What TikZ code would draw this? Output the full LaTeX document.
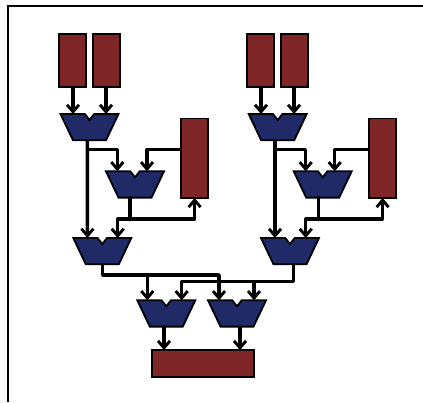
\documentclass[tikz,border=0pt]{standalone}
\usetikzlibrary{arrows.meta}
\definecolor{regred}{HTML}{7F2628}
\definecolor{muxblue}{HTML}{1F2A66}
\tikzset{
  regbox/.style={draw=black,fill=regred,line width=1.8pt,inner sep=0pt,outer sep=0pt},
  tallreg/.style={regbox,minimum width=27pt,minimum height=53.2pt},
  sidereg/.style={regbox,minimum width=26.5pt,minimum height=79.5pt},
  muxanchor/.style={inner sep=0pt,outer sep=0pt,minimum width=58pt,minimum height=26.3pt},
  muxfill/.style={draw=black,fill=muxblue,line width=1.8pt,line join=miter},
  wire/.style={draw=black,line width=3.4pt,line join=round,line cap=round},
  arrowwire/.style={wire,line cap=butt,-{Straight Barb[length=7pt,width=12pt,line width=2.9pt]}},
  frameline/.style={draw=black,line width=2pt}
}
\newcommand{\muxunit}[3]{%
  \node[muxanchor] (#1) at (#2,#3+13.15) {};
  \draw[muxfill] ([xshift=-29pt]#1.north) -- ([xshift=-4.7pt]#1.north)
    -- ([yshift=-6pt]#1.north) -- ([xshift=4.7pt]#1.north)
    -- ([xshift=29pt]#1.north) -- ([xshift=16.5pt]#1.south)
    -- ([xshift=-16.5pt]#1.south) -- cycle;
}
\begin{document}
\begin{tikzpicture}[x=1pt,y=-1pt]
\useasboundingbox (0,0) rectangle (423,402);
\fill[white] (0,0) rectangle (423,402);
\coordinate (fa) at (7.5,402);
\coordinate (fb) at (7.5,5.5);
\coordinate (fc) at (423,5.5);
\draw[frameline] (fa) -- (fb) -- (fc);

% registers
\node[tallreg] (r1) at (72.4,60.5) {};
\node[tallreg] (r2) at (106.5,60.5) {};
\node[tallreg] (r3) at (260.4,60.5) {};
\node[tallreg] (r4) at (294.5,60.5) {};
\node[sidereg] (s1) at (194.6,158.2) {};
\node[sidereg] (s2) at (382.6,158.2) {};
\node[regbox,minimum width=102pt,minimum height=26.6pt] (out) at (203,363.4) {};

% muxes
\muxunit{m1}{89.5}{114}
\muxunit{m2}{135}{171.3}
\muxunit{m3}{102.3}{238}
\muxunit{m4}{290}{238}
\muxunit{m5}{166.3}{300.3}
\muxunit{m6}{237}{300.3}
\muxunit{m7}{277.7}{114}
\muxunit{m8}{322.7}{171.3}

% junction points
\coordinate (j1) at (87.4,149.5);
\coordinate (j2) at (275,149.5);
\coordinate (j3) at (147.3,275);
\coordinate (j4) at (254,281.7);
\coordinate (c1) at (219,275);
\coordinate (c2) at (181.7,281.7);
\coordinate (lb1) at (117.7,219);
\coordinate (lb2) at (305.7,219);

% top registers to first muxes
\draw[arrowwire] ([xshift=0.6pt]r1.south) -- ([xshift=-16.5pt]m1.north);
\draw[arrowwire] ([xshift=-0.5pt]r2.south) -- ([xshift=16.5pt]m1.north);
\draw[arrowwire] ([xshift=0.6pt]r3.south) -- ([xshift=-16.7pt]m7.north);
\draw[arrowwire] ([xshift=-0.5pt]r4.south) -- ([xshift=16.3pt]m7.north);

% first mux outputs to the second-level muxes
\draw[arrowwire] ([xshift=-2.1pt]m1.south) -- ([xshift=-14.9pt]m3.north);
\draw[arrowwire] (j1) -| ([xshift=-17.7pt]m2.north);
\draw[arrowwire] (s1.west |- j1) -| ([xshift=12pt]m2.north);
\draw[arrowwire] ([xshift=-2.7pt]m7.south) -- ([xshift=-15pt]m4.north);
\draw[arrowwire] (j2) -| ([xshift=-17pt]m8.north);
\draw[arrowwire] (s2.west |- j2) -| ([xshift=12pt]m8.north);

% feedback loops
\draw[wire] ([xshift=-5pt]m2.south) -- ++(0,22);
\draw[arrowwire] (lb1) -- ([xshift=15.4pt]m3.north);
\draw[arrowwire,line cap=round] (lb1) -| (s1.south);
\draw[wire] ([xshift=-4.4pt]m8.south) -- ++(0,22);
\draw[arrowwire] (lb2) -- ([xshift=15.7pt]m4.north);
\draw[arrowwire,line cap=round] (lb2) -| (s2.south);

% lower mux wiring
\draw[arrowwire] ([xshift=0.4pt]m3.south) |- (c1) -- ([xshift=-18pt]m6.north);
\draw[arrowwire] (j3) -- ([xshift=-19pt]m5.north);
\draw[arrowwire] ([xshift=3.3pt]m4.south) |- (c2) -- ([xshift=15.4pt]m5.north);
\draw[arrowwire] (j4) -- ([xshift=17pt]m6.north);

% outputs
\draw[arrowwire] ([xshift=-2.3pt]m5.south) -- ([xshift=-39pt]out.north);
\draw[arrowwire] ([xshift=3pt]m6.south) -- ([xshift=37pt]out.north);
\end{tikzpicture}
\end{document}
